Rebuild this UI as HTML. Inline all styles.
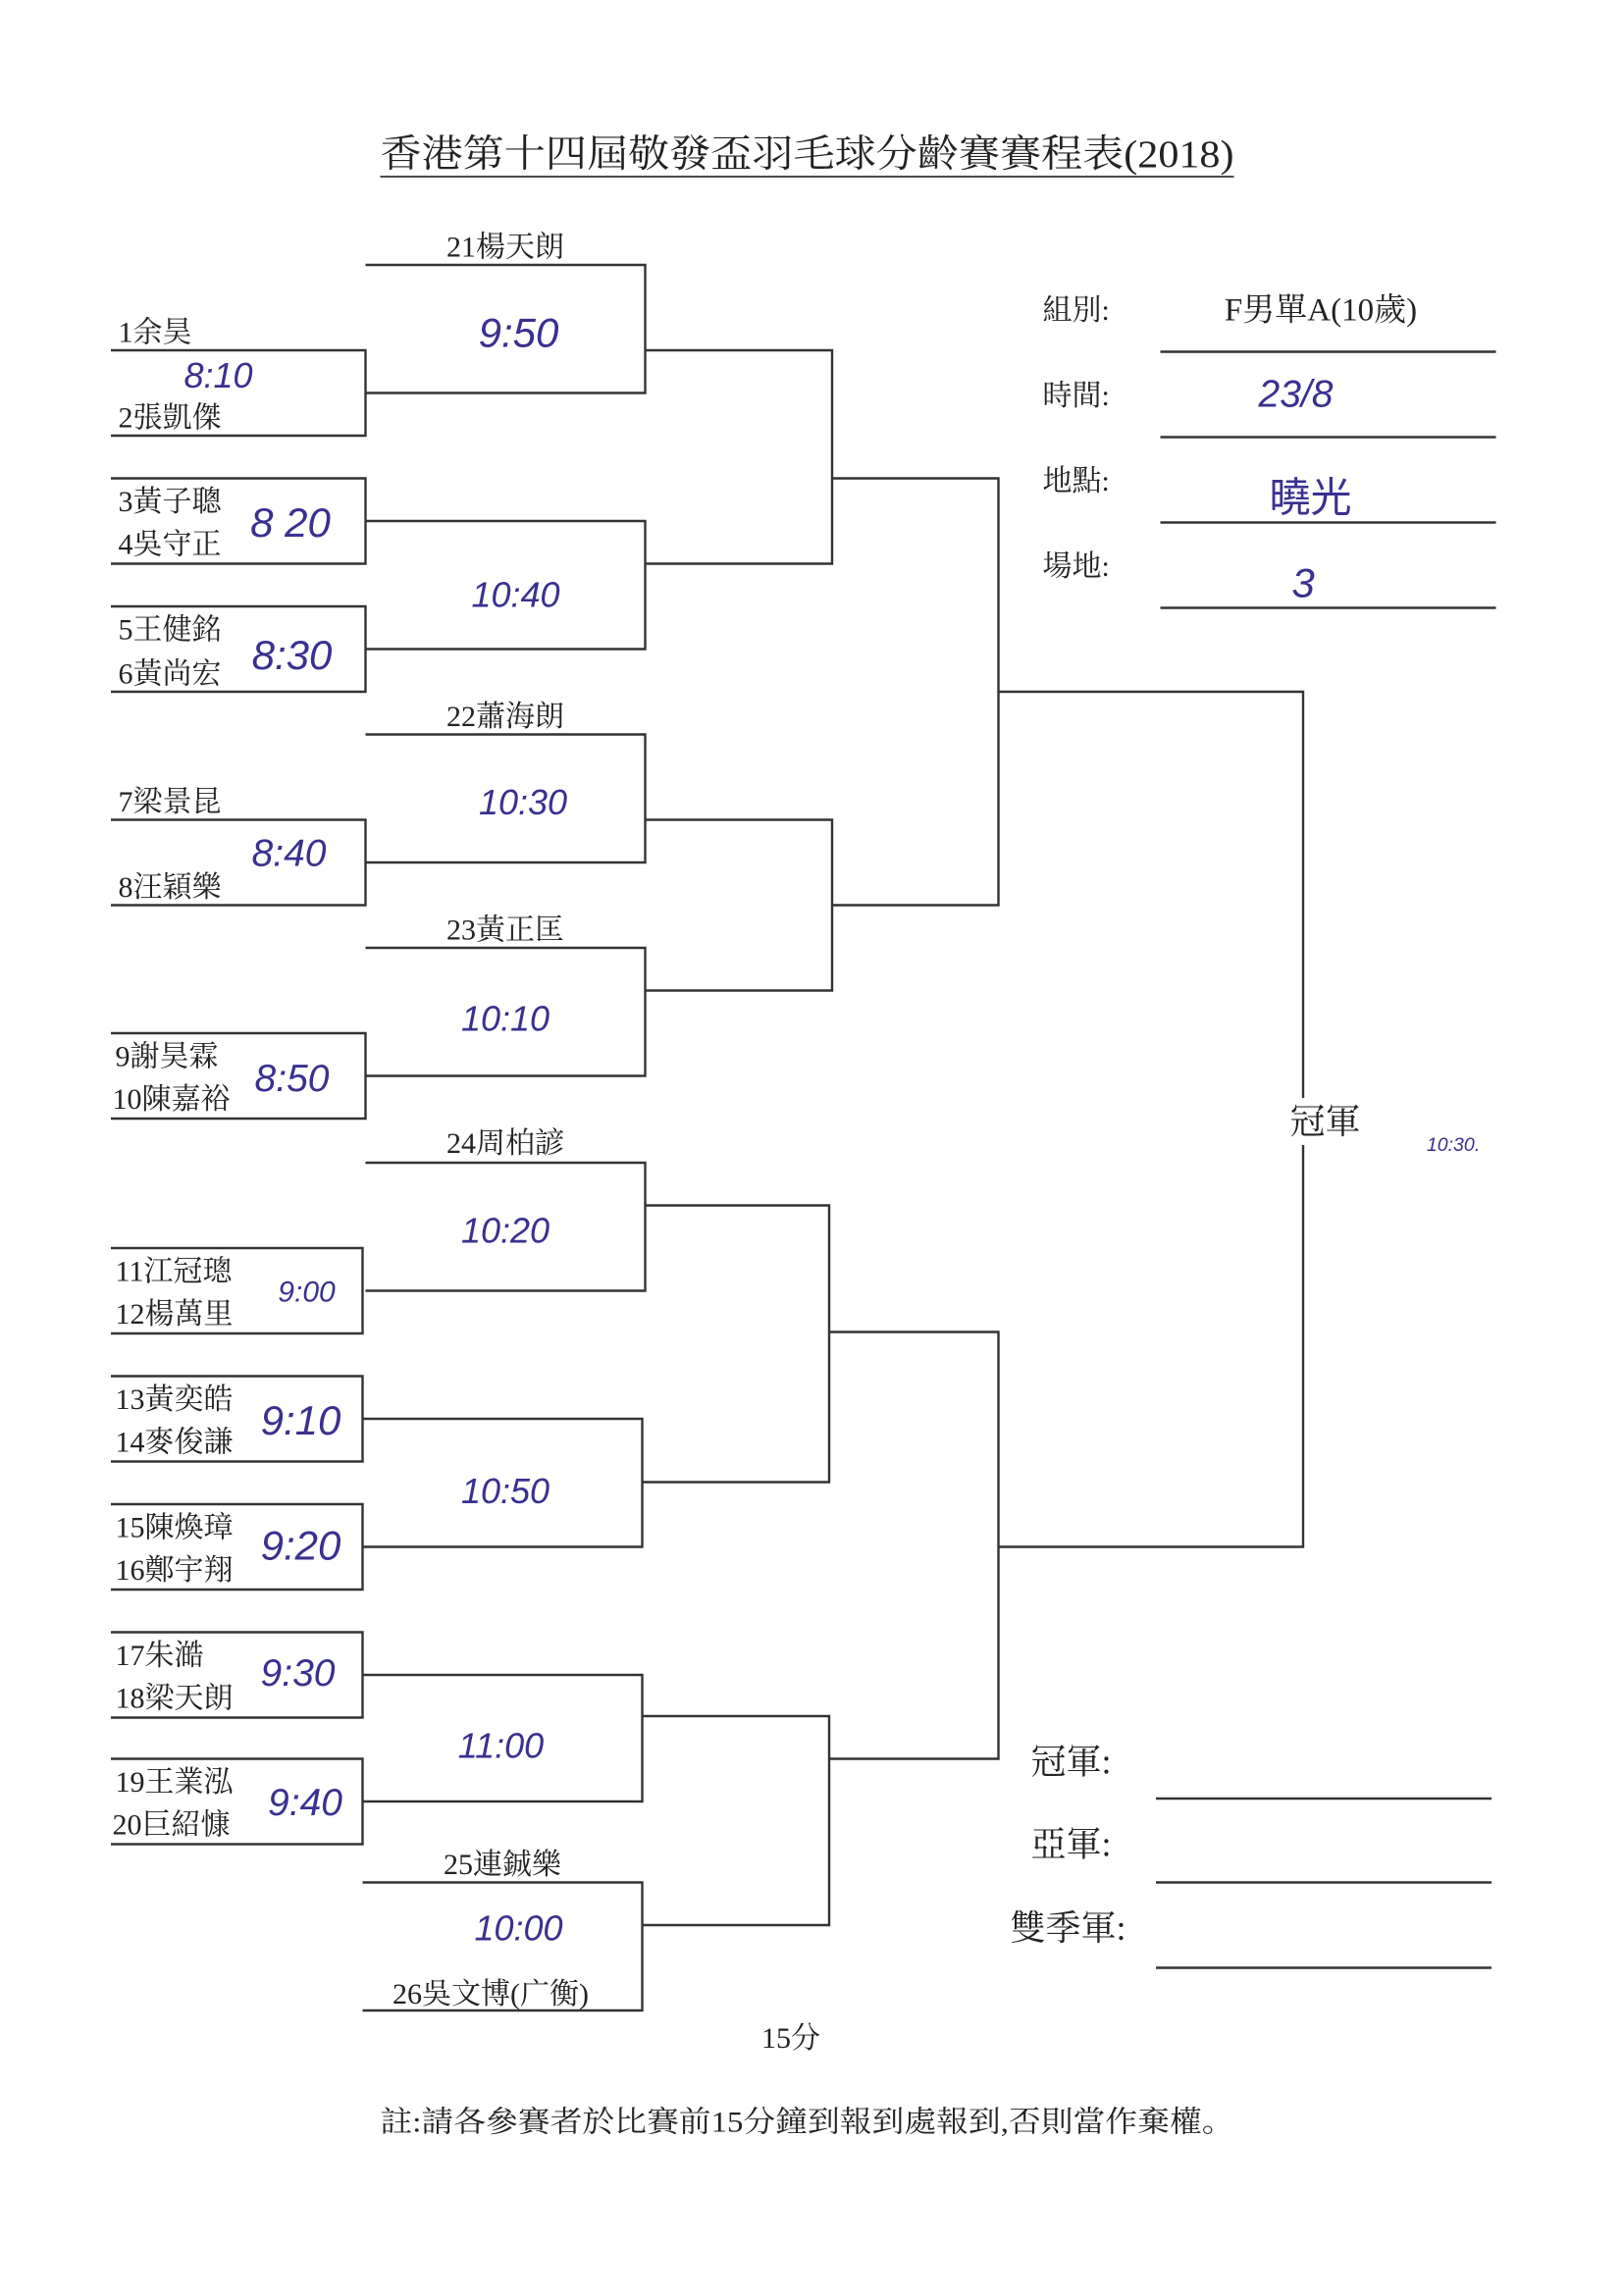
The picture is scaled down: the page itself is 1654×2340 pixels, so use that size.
<!DOCTYPE html>
<html><head><meta charset="utf-8"><style>
html,body{margin:0;padding:0;background:#fff;}
svg{display:block;}
.t{font-family:"Liberation Serif","Noto Serif CJK SC","Noto Sans CJK TC",serif;font-size:20px;fill:#222;dominant-baseline:central;}
.h{font-family:"Liberation Sans","Noto Sans CJK SC",sans-serif;font-style:italic;font-size:24px;fill:#3a3090;dominant-baseline:central;}
</style></head><body>
<svg width="1654" height="2340" viewBox="0 0 1102 1560" xmlns="http://www.w3.org/2000/svg">
<rect width="1102" height="1560" fill="#fff"/>
<text class="t" x="258" y="105" textLength="580" lengthAdjust="spacingAndGlyphs" style="font-size:26px">香港第十四屆敬發盃羽毛球分齡賽賽程表(2018)</text>
<line x1="258" y1="120" x2="838" y2="120" stroke="#333" stroke-width="1.2"/>
<g stroke="#333" stroke-width="1.6" fill="none">
<polyline points="75,238 248,238 248,296 75,296"/>
<polyline points="75,325 248,325 248,383 75,383"/>
<polyline points="75,412 248,412 248,470 75,470"/>
<polyline points="75,557 248,557 248,615 75,615"/>
<polyline points="75,702 248,702 248,760 75,760"/>
<polyline points="75,848 246,848 246,906 75,906"/>
<polyline points="75,935 246,935 246,993 75,993"/>
<polyline points="75,1022 246,1022 246,1080 75,1080"/>
<polyline points="75,1109 246,1109 246,1167 75,1167"/>
<polyline points="75,1195 246,1195 246,1253 75,1253"/>
<polyline points="248,180 438,180 438,267 248,267"/>
<polyline points="248,354 438,354 438,441 248,441"/>
<polyline points="248,499 438,499 438,586 248,586"/>
<polyline points="248,644 438,644 438,731 248,731"/>
<polyline points="248,790 438,790 438,877 248,877"/>
<polyline points="246,964 436,964 436,1051 246,1051"/>
<polyline points="246,1138 436,1138 436,1224 246,1224"/>
<polyline points="246,1279 436,1279 436,1366 246,1366"/>
<polyline points="438,238 565,238 565,383 438,383"/>
<polyline points="438,557 565,557 565,673 438,673"/>
<polyline points="438,819 563,819 563,1007 436,1007"/>
<polyline points="436,1166 563,1166 563,1308 436,1308"/>
<polyline points="565,325 678,325 678,615 565,615"/>
<polyline points="563,905 678,905 678,1195 563,1195"/>
<polyline points="678,470 885,470 885,1051 678,1051"/>
<line x1="788" y1="239" x2="1016" y2="239"/>
<line x1="788" y1="297" x2="1016" y2="297"/>
<line x1="788" y1="355" x2="1016" y2="355"/>
<line x1="788" y1="413" x2="1016" y2="413"/>
<line x1="785" y1="1222" x2="1013" y2="1222"/>
<line x1="785" y1="1279" x2="1013" y2="1279"/>
<line x1="785" y1="1337" x2="1013" y2="1337"/>
</g>
<rect x="872" y="746" width="58" height="32" fill="#fff"/>
<g class="t">
<text x="80" y="226">1余昊</text><text x="80" y="284">2張凱傑</text>
<text x="80" y="341">3黃子聰</text><text x="80" y="370">4吳守正</text>
<text x="80" y="428">5王健銘</text><text x="80" y="458">6黃尚宏</text>
<text x="80" y="545">7梁景昆</text><text x="80" y="603">8汪穎樂</text>
<text x="78" y="718">9謝昊霖</text><text x="76" y="747">10陳嘉裕</text>
<text x="78" y="864">11江冠璁</text><text x="78" y="893">12楊萬里</text>
<text x="78" y="951">13黃奕皓</text><text x="78" y="980">14麥俊謙</text>
<text x="78" y="1038">15陳煥璋</text><text x="78" y="1067">16鄭宇翔</text>
<text x="78" y="1125">17朱澔</text><text x="78" y="1154">18梁天朗</text>
<text x="78" y="1211">19王業泓</text><text x="76" y="1240">20巨紹慷</text>
<text x="343" y="168" text-anchor="middle">21楊天朗</text>
<text x="343" y="487" text-anchor="middle">22蕭海朗</text>
<text x="343" y="632" text-anchor="middle">23黃正匡</text>
<text x="343" y="777" text-anchor="middle">24周柏諺</text>
<text x="341" y="1267" text-anchor="middle">25連鋮樂</text>
<text x="333" y="1355" text-anchor="middle">26吳文博(广衡)</text>
<text x="708" y="211">組別:</text>
<text x="897" y="211" text-anchor="middle" style="font-size:22px">F男單A(10歲)</text>
<text x="708" y="269">時間:</text>
<text x="708" y="327">地點:</text>
<text x="708" y="385">場地:</text>
<text x="900" y="762" text-anchor="middle" style="font-size:24px">冠軍</text>
<text x="700" y="1197" style="font-size:24px">冠軍:</text>
<text x="700" y="1253" style="font-size:24px">亞軍:</text>
<text x="686" y="1310" style="font-size:24px">雙季軍:</text>
<text x="537" y="1385" text-anchor="middle">15分</text>
<text x="258" y="1442" textLength="580" lengthAdjust="spacingAndGlyphs">註:請各參賽者於比賽前15分鐘到報到處報到,否則當作棄權。</text>
</g>
<g class="h">
<text x="148" y="255" text-anchor="middle">8:10</text>
<text x="352" y="226" text-anchor="middle" style="font-size:28px">9:50</text>
<text x="197" y="355" text-anchor="middle" style="font-size:28px">8 20</text>
<text x="350" y="404" text-anchor="middle">10:40</text>
<text x="198" y="445" text-anchor="middle" style="font-size:28px">8:30</text>
<text x="355" y="545" text-anchor="middle">10:30</text>
<text x="196" y="580" text-anchor="middle" style="font-size:26px">8:40</text>
<text x="343" y="692" text-anchor="middle">10:10</text>
<text x="198" y="733" text-anchor="middle" style="font-size:26px">8:50</text>
<text x="343" y="836" text-anchor="middle">10:20</text>
<text x="208" y="878" text-anchor="middle" style="font-size:20px">9:00</text>
<text x="204" y="965" text-anchor="middle" style="font-size:28px">9:10</text>
<text x="343" y="1013" text-anchor="middle">10:50</text>
<text x="204" y="1050" text-anchor="middle" style="font-size:28px">9:20</text>
<text x="202" y="1137" text-anchor="middle" style="font-size:26px">9:30</text>
<text x="340" y="1186" text-anchor="middle">11:00</text>
<text x="207" y="1225" text-anchor="middle" style="font-size:26px">9:40</text>
<text x="352" y="1310" text-anchor="middle">10:00</text>
<text x="987" y="778" text-anchor="middle" style="font-size:13px">10:30.</text>
<text x="880" y="268" text-anchor="middle" style="font-size:26px">23/8</text>
<text x="890" y="336" text-anchor="middle" style="font-size:28px;font-family:'Noto Sans CJK SC',sans-serif;font-style:normal">曉光</text>
<text x="885" y="396" text-anchor="middle" style="font-size:28px">3</text>
</g>
</svg>
</body></html>
